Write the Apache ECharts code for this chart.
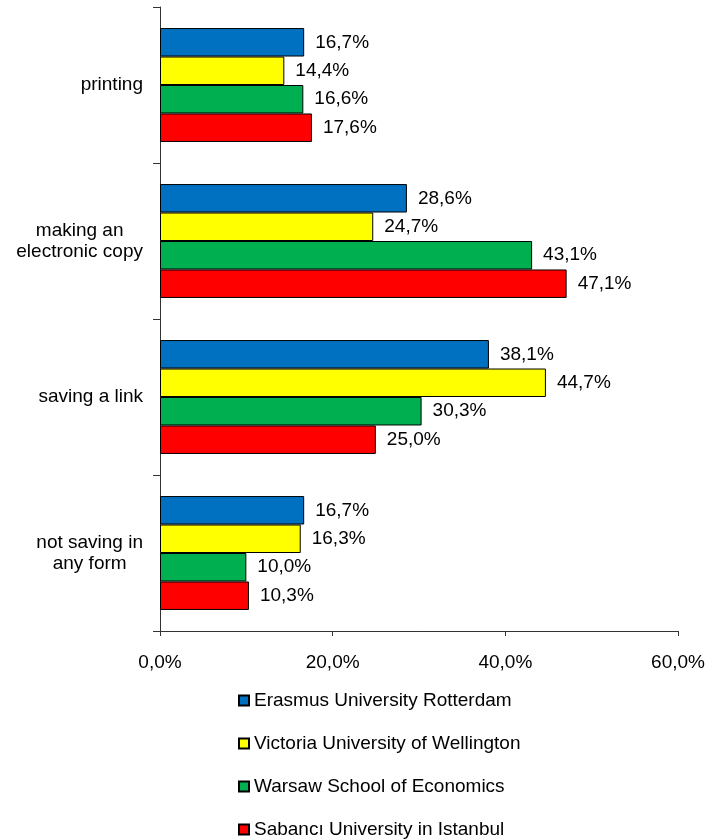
<!DOCTYPE html>
<html>
<head>
<meta charset="utf-8">
<script src="https://cdn.jsdelivr.net/npm/echarts@6/dist/echarts.min.js"></script>
<style>
  html, body { margin: 0; padding: 0; background: #fff; }
  #chart { width: 708px; height: 839px; }
</style>
</head>
<body>
<div id="chart"></div>
<script>
// Ways of keeping a found resource, share of respondents per university (%)
const categories = ['printing', 'making an\nelectronic copy', 'saving a link', 'not saving in\nany form'];
const universities = [
  'Erasmus University Rotterdam',
  'Victoria University of Wellington',
  'Warsaw School of Economics',
  'Sabancı University in Istanbul'
];
const erasmus  = [16.7, 28.6, 38.1, 16.7];
const victoria = [14.4, 24.7, 44.7, 16.3];
const warsaw   = [16.6, 43.1, 30.3, 10.0];
const sabanci  = [17.6, 47.1, 25.0, 10.3];
const xTicks = [0, 20, 40, 60];

const seriesValues = [erasmus, victoria, warsaw, sabanci];
const colors = ['#0070C0', '#FFFF00', '#00B050', '#FF0000'];
const FONT = 'Liberation Sans, Arial, sans-serif';
const fmtPct = v => v.toFixed(1).replace('.', ',') + '%';

const chart = echarts.init(document.getElementById('chart'));
chart.setOption({
  animation: false,
  backgroundColor: '#fff',
  textStyle: { fontFamily: FONT },
  grid: { left: 160, right: 30, top: 7, bottom: 208, containLabel: false },
  xAxis: {
    type: 'value',
    min: xTicks[0],
    max: xTicks[xTicks.length - 1],
    interval: xTicks[1] - xTicks[0],
    axisLine: { show: true, lineStyle: { color: '#333', width: 1 } },
    axisTick: { show: true, length: 5, lineStyle: { color: '#333' } },
    splitLine: { show: false },
    axisLabel: {
      margin: 22,
      fontSize: 19,
      color: '#000',
      fontFamily: FONT,
      formatter: v => fmtPct(v)
    }
  },
  yAxis: {
    type: 'category',
    inverse: true,
    data: categories,
    axisLine: { show: true, lineStyle: { color: '#333', width: 1 } },
    axisTick: { show: true, length: 7, interval: 0, lineStyle: { color: '#333' } },
    axisLabel: {
      margin: 17,
      interval: 0,
      color: '#000',
      fontSize: 19,
      fontFamily: FONT,
      formatter: v => v.split('\n').map(s => '{c|' + s + '}').join('\n'),
      rich: {
        c: { align: 'center', fontSize: 19, lineHeight: 21, color: '#000', fontFamily: FONT }
      }
    }
  },
  legend: {
    orient: 'vertical',
    left: 233,
    top: 686,
    height: 150,
    itemWidth: 10,
    itemHeight: 10,
    itemGap: 24,
    icon: 'rect',
    textStyle: { fontSize: 19, color: '#000', fontFamily: FONT, padding: [0, 0, 0, 0] },
    data: universities
  },
  series: seriesValues.map((vals, i) => ({
    name: universities[i],
    type: 'bar',
    data: vals,
    barGap: '0%',
    barCategoryGap: '27%',
    itemStyle: { color: colors[i], borderColor: '#000', borderWidth: 1 },
    label: {
      show: true,
      position: 'right',
      distance: 11,
      fontSize: 19,
      color: '#000',
      fontFamily: FONT,
      formatter: p => fmtPct(p.value)
    }
  }))
});
</script>
</body>
</html>
